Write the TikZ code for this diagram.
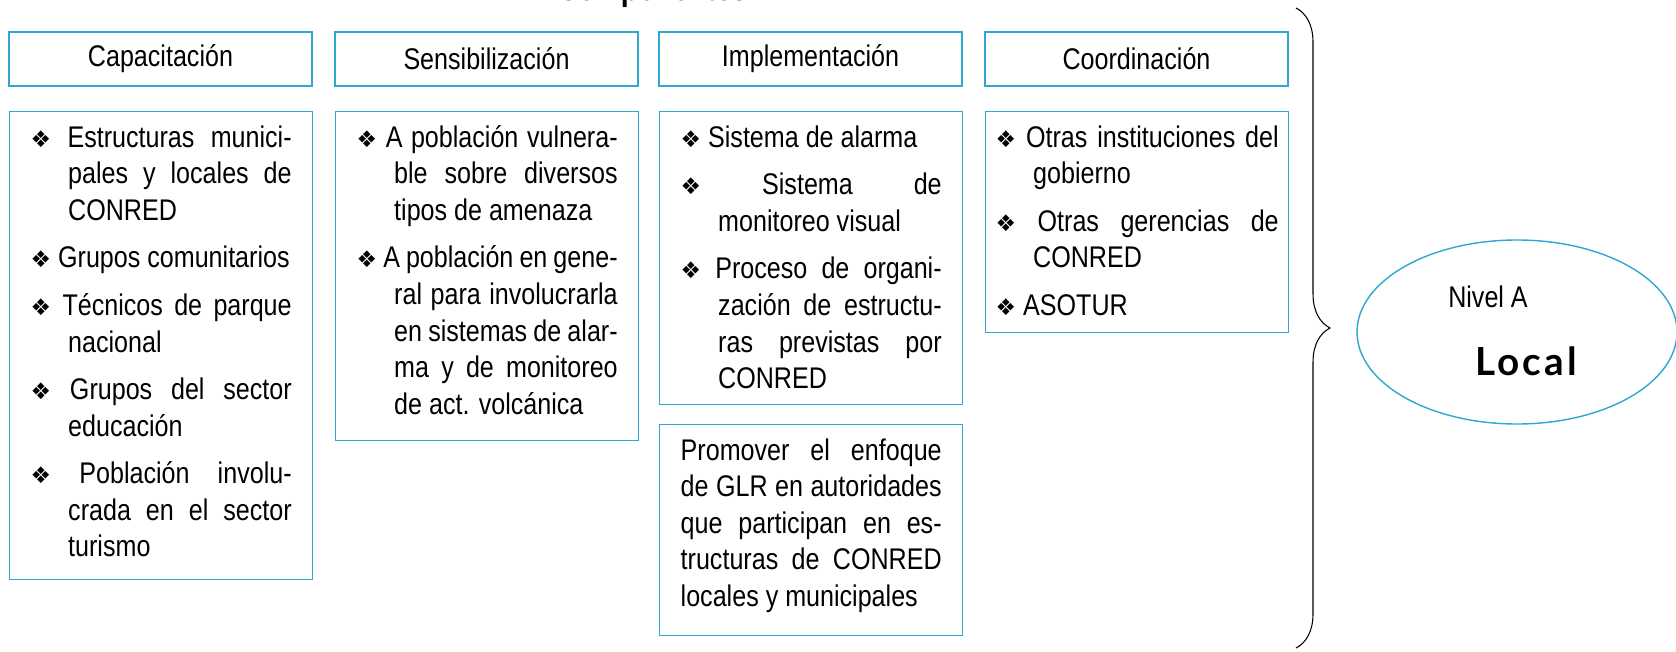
\documentclass[tikz,border=0pt]{standalone}
\usepackage{fontspec}
\setmainfont{Liberation Sans}[FakeStretch=0.84]
\newfontfamily\dingfont{DejaVu Sans}
\newfontfamily\localfont{Lato}[LetterSpace=8]
\usetikzlibrary{shapes.geometric,decorations.pathreplacing}
\definecolor{boxblue}{HTML}{2EA8D0}

\newcommand{\itm}{\par\hangindent=0.75cm\hangafter=1\noindent\strut{\dingfont\fontsize{13}{13}\selectfont ❖}\ }
\newcommand{\bodytext}[3]{\parbox[c][#2][t]{#1}{\setlength{\parskip}{0.22cm}\hyphenpenalty=10000 \tolerance=9999 #3}}

\begin{document}
\begin{tikzpicture}[every node/.style={font=\fontsize{17}{20.8}\selectfont},
    headbox/.style={draw=boxblue, line width=0.8pt, minimum width=6.06cm, minimum height=1.08cm, inner sep=0pt},
    bodybox/.style={draw=boxblue, line width=0.8pt, anchor=north west, inner xsep=0.42cm, inner ysep=0.2cm}]
    \useasboundingbox (0,0) rectangle (33.52,-13.02);

    \node [anchor=base, font=\bfseries\fontsize{19.3}{22}\selectfont] (title) at (13.05,-0.015) {Componentes};

    \node [headbox] (capHead) at (3.21,-1.18) {Capacitación};
    \node [headbox] (sensHead) at (9.73,-1.18) {Sensibilización};
    \node [headbox] (implHead) at (16.21,-1.18) {Implementación};
    \node [headbox] (coordHead) at (22.73,-1.18) {Coordinación};

    \node [bodybox] (capBody) at (0.18,-2.22) {\bodytext{5.22cm}{8.96cm}{%
        \itm Estructuras munici-\linebreak pales y locales de\linebreak CONRED
        \itm Grupos comunitarios
        \itm Técnicos de parque\linebreak nacional
        \itm Grupos del sector\linebreak educación
        \itm Población involu-\linebreak crada en el sector\linebreak turismo}};
    \node [bodybox] (sensBody) at (6.70,-2.22) {\bodytext{5.22cm}{6.18cm}{%
        \itm A población vulnera-\linebreak ble sobre diversos\linebreak tipos de amenaza
        \itm A población en gene-\linebreak ral para involucrarla\linebreak en sistemas de alar-\linebreak ma y de monitoreo\linebreak de act. volcánica}};
    \node [bodybox] (implBody) at (13.18,-2.22) {\bodytext{5.22cm}{5.46cm}{%
        \itm Sistema de alarma
        \itm Sistema de\linebreak monitoreo visual
        \itm Proceso de organi-\linebreak zación de estructu-\linebreak ras previstas por\linebreak CONRED}};
    \node [bodybox] (promBody) at (13.18,-8.48) {\bodytext{5.22cm}{3.82cm}{%
        \noindent\strut Promover el enfoque\linebreak de GLR en autoridades\linebreak que participan en es-\linebreak tructuras de CONRED\linebreak locales y municipales}};
    \node [bodybox, inner xsep=0.2cm] (coordBody) at (19.70,-2.22) {\bodytext{5.66cm}{4.02cm}{%
        \itm Otras instituciones del\linebreak gobierno
        \itm Otras gerencias de\linebreak CONRED
        \itm ASOTUR}};

    \coordinate (brTop) at (25.92,-0.16);
    \coordinate (brBot) at (25.92,-12.96);
    \draw [decorate, decoration={brace, amplitude=0.68cm}, line width=0.6pt] (brTop) -- (brBot);

    \node [ellipse, draw=boxblue, line width=0.8pt, minimum width=6.4cm, minimum height=3.68cm, inner sep=0pt] (nivel) at (30.34,-6.64) {};
    \node [anchor=base] (nivelTxt) at (29.76,-6.14) {Nivel A};
    \node [anchor=base, font=\localfont\bfseries\fontsize{22}{24}\selectfont] (localTxt) at (30.52,-7.50) {Local};
\end{tikzpicture}
\end{document}
